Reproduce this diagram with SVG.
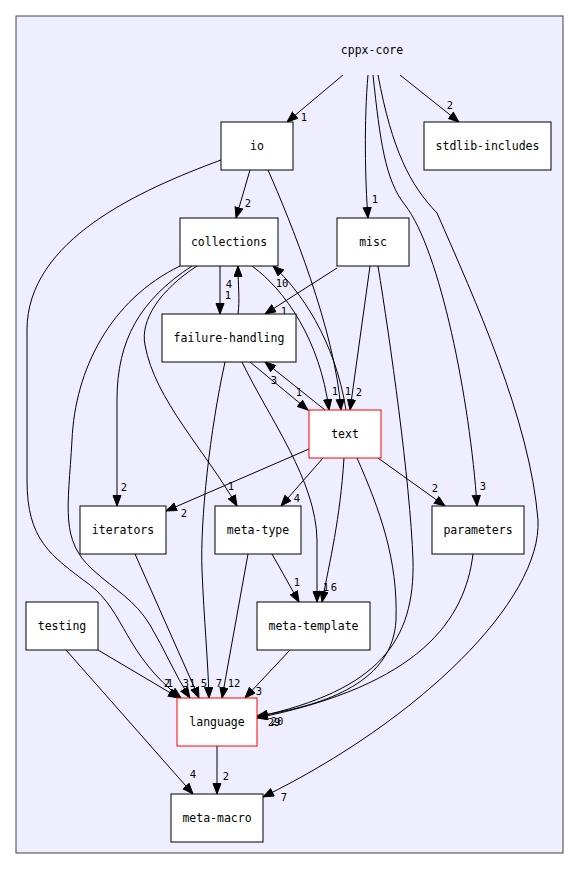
<svg xmlns="http://www.w3.org/2000/svg" width="579" height="869" viewBox="0 0 579 869">
<style>
.node rect{fill:#ffffff;stroke:#000000;stroke-width:1}
.node.red rect{stroke:#ff0000}
.nt{font-family:"DejaVu Sans Mono",monospace;font-size:11.5px;text-anchor:middle;fill:#000}
.edges path{fill:none;stroke:#000;stroke-width:1;marker-end:url(#arr)}
.lb{font-family:"DejaVu Sans Mono",monospace;font-size:10.5px;text-anchor:middle;fill:#000}
</style>
<defs>
<marker id="arr" markerUnits="userSpaceOnUse" markerWidth="12" markerHeight="10" refX="11" refY="4.5" orient="auto">
<path d="M0.5,0.5 L11,4.5 L0.5,8.5 z" fill="#000" stroke="#000" stroke-width="1"/>
</marker>
</defs>
<rect x="0" y="0" width="579" height="869" fill="#ffffff"/>
<g id="cluster">
<rect x="16" y="16" width="547" height="837" fill="#eeeeff" stroke="#404040" stroke-width="1"/>
</g>
<g id="cppx-core"><text class="nt" x="372" y="54">cppx-core</text></g>
<g class="edges" id="edges">
<path d="M343,75 L287,122"/>
<path d="M400,75 L459,122"/>
<path d="M368,75 C364,120 365,180 368,218"/>
<path d="M373,75 C380,140 385,180 405,205 C440,250 470,400 477,506"/>
<path d="M378,75 C392,150 410,185 437,213 C475,300 530,420 538,520 C542,600 420,720 263,797"/>
<path d="M250,170 L236,218"/>
<path d="M268,170 C290,220 335,330 341,410"/>
<path d="M221,160 C140,190 27,240 27,330 L27,480 C27,540 50,555 90,585 C125,612 125,655 181,698"/>
<path d="M180,266 C110,300 75,370 72,440 C68,510 60,540 93,570 C115,590 135,600 150,625 C165,650 175,675 190,698"/>
<path d="M192,266 C140,300 117,340 117,400 L117,506"/>
<path d="M197,266 C160,290 140,320 145,345 C155,400 205,450 237,506"/>
<path d="M220,266 L220,314"/>
<path d="M238,314 C240,300 238,285 238,266"/>
<path d="M252,266 C285,290 320,340 329,410"/>
<path d="M346,410 C335,340 300,290 273,266"/>
<path d="M337,268 L265,314"/>
<path d="M370,266 L350,410"/>
<path d="M378,266 C390,340 410,480 413,560 C415,640 380,690 257,717"/>
<path d="M250,362 L308,410"/>
<path d="M325,410 L265,362"/>
<path d="M225,362 C210,430 200,520 202,570 C204,620 208,660 209,698"/>
<path d="M242,362 C270,420 316,480 317,540 L317,602"/>
<path d="M309,449 L166,511"/>
<path d="M323,458 L281,506"/>
<path d="M344,458 C340,520 330,560 322,602"/>
<path d="M378,458 L445,506"/>
<path d="M357,458 C380,510 398,560 396,620 C393,680 330,705 257,716"/>
<path d="M272,554 L299,602"/>
<path d="M248,554 L222,698"/>
<path d="M135,554 L199,698"/>
<path d="M98,650 L179,698"/>
<path d="M290,650 L245,698"/>
<path d="M473,554 C465,620 420,685 257,718"/>
<path d="M66,650 L193,794"/>
<path d="M217,746 L217,794"/>
</g>
<g id="edge-labels">
<text class="lb" x="304" y="121">1</text>
<text class="lb" x="450" y="109">2</text>
<text class="lb" x="375" y="203">1</text>
<text class="lb" x="483" y="490">3</text>
<text class="lb" x="284" y="801">7</text>
<text class="lb" x="248" y="207">2</text>
<text class="lb" x="335" y="395">1</text>
<text class="lb" x="348" y="395">1</text>
<text class="lb" x="359" y="396">2</text>
<text class="lb" x="299" y="396">1</text>
<text class="lb" x="274" y="384">3</text>
<text class="lb" x="229" y="288">4</text>
<text class="lb" x="228" y="299">1</text>
<text class="lb" x="282" y="287">10</text>
<text class="lb" x="284" y="315">1</text>
<text class="lb" x="124" y="491">2</text>
<text class="lb" x="231" y="490">1</text>
<text class="lb" x="184" y="517">2</text>
<text class="lb" x="297" y="502">4</text>
<text class="lb" x="435" y="492">2</text>
<text class="lb" x="297" y="586">1</text>
<text class="lb" x="326" y="591">1</text>
<text class="lb" x="334" y="591">6</text>
<text class="lb" x="167" y="687">2</text>
<text class="lb" x="170" y="687">1</text>
<text class="lb" x="189" y="687">31</text>
<text class="lb" x="204" y="687">5</text>
<text class="lb" x="219" y="687">7</text>
<text class="lb" x="234" y="687">12</text>
<text class="lb" x="259" y="695">3</text>
<text class="lb" x="274" y="726">29</text>
<text class="lb" x="277" y="725">20</text>
<text class="lb" x="193" y="778">4</text>
<text class="lb" x="226" y="780">2</text>
</g>
<g id="io" class="node"><rect x="221" y="122" width="72" height="48"/><text class="nt" x="257" y="150">io</text></g>
<g id="stdlib-includes" class="node"><rect x="424" y="122" width="127" height="48"/><text class="nt" x="487.5" y="150">stdlib-includes</text></g>
<g id="collections" class="node"><rect x="180" y="218" width="98" height="48"/><text class="nt" x="229" y="246">collections</text></g>
<g id="misc" class="node"><rect x="337" y="218" width="72" height="48"/><text class="nt" x="373" y="246">misc</text></g>
<g id="failure-handling" class="node"><rect x="162" y="314" width="134" height="48"/><text class="nt" x="229" y="342">failure-handling</text></g>
<g id="text" class="node red"><rect x="309" y="410" width="72" height="48"/><text class="nt" x="345" y="438">text</text></g>
<g id="iterators" class="node"><rect x="80" y="506" width="86" height="48"/><text class="nt" x="123" y="534">iterators</text></g>
<g id="meta-type" class="node"><rect x="215" y="506" width="86" height="48"/><text class="nt" x="258" y="534">meta-type</text></g>
<g id="parameters" class="node"><rect x="432" y="506" width="92" height="48"/><text class="nt" x="478" y="534">parameters</text></g>
<g id="testing" class="node"><rect x="26" y="602" width="72" height="48"/><text class="nt" x="62" y="630">testing</text></g>
<g id="meta-template" class="node"><rect x="257" y="602" width="113" height="48"/><text class="nt" x="313.5" y="630">meta-template</text></g>
<g id="language" class="node red"><rect x="177" y="698" width="80" height="48"/><text class="nt" x="217" y="726">language</text></g>
<g id="meta-macro" class="node"><rect x="171" y="794" width="92" height="48"/><text class="nt" x="217" y="822">meta-macro</text></g>
</svg>
